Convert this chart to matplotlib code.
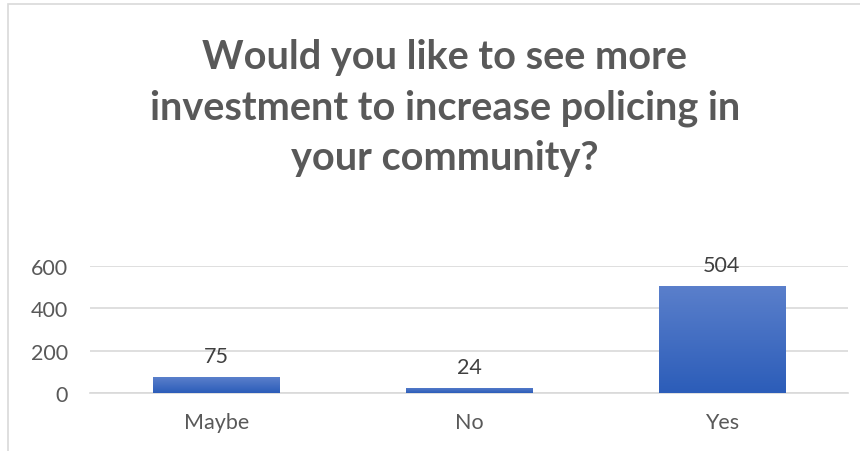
import numpy as np
import matplotlib.pyplot as plt
from matplotlib.patches import Rectangle

categories = ['Maybe', 'No', 'Yes']
values = [75, 24, 504]
yticks = [0, 200, 400, 600]
title = 'Would you like to see more\ninvestment to increase policing in\nyour community?'

plt.rcParams['font.family'] = ['Lato', 'DejaVu Sans']
grey = '#595959'

fig = plt.figure(figsize=(8.6, 4.52), dpi=100)
fig.patches.append(Rectangle((8/860, -0.1), 1.0, 1.1 - 5/452, transform=fig.transFigure,
                             fill=False, edgecolor='#D9D9D9', lw=1.2))

ax = fig.add_axes([90/860, 1 - 394/452, (848 - 90)/860, (394 - 267)/452])
x = np.arange(len(categories))
bars = ax.bar(x, values, width=0.5, color='#4472C4', zorder=3)

# vertical gradient inside each bar
grad = np.linspace(0, 1, 100).reshape(-1, 1)
cmap = plt.matplotlib.colors.LinearSegmentedColormap.from_list('g', ['#2C5DB9', '#5A7FCB'])
for b in bars:
    bx, by = b.get_x(), b.get_y()
    w, h = b.get_width(), b.get_height()
    im = ax.imshow(grad, cmap=cmap, aspect='auto', origin='lower',
                   extent=[bx, bx + w, by, by + h], zorder=4)
    im.set_clip_path(b)

for xi, v in zip(x, values):
    ax.annotate(str(v), (xi, v), xytext=(0, 8), textcoords='offset points',
                ha='center', va='bottom', fontsize=15.5, color='#404040')

ax.set_xlim(-0.5, 2.5)
ax.set_ylim(0, 600)
ax.set_yticks(yticks)
ax.set_xticks(x)
ax.set_xticklabels(categories)
ax.yaxis.grid(True, color='#D9D9D9', lw=1.2, zorder=0)
for s in ['top', 'right', 'left']:
    ax.spines[s].set_visible(False)
ax.spines['bottom'].set_color('#D9D9D9')
ax.spines['bottom'].set_linewidth(1.2)
ax.tick_params(axis='both', length=0, labelsize=15.5, labelcolor=grey)
ax.tick_params(axis='y', pad=16)
ax.tick_params(axis='x', pad=14)

fig.text(445/860, 1 - 108/452, title, ha='center', va='center', fontsize=28.5,
         fontweight='bold', color=grey, linespacing=1.45)

fig.savefig('out.png', dpi=100)
